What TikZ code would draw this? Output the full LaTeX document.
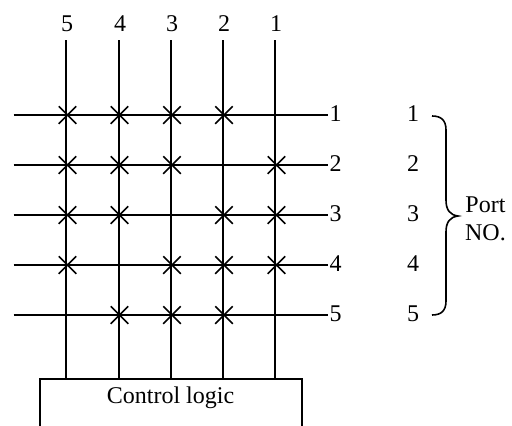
\documentclass[tikz,border=0pt]{standalone}
\usepackage{fontspec}
\setmainfont{Liberation Serif}
\usetikzlibrary{shapes.misc}
\tikzset{
  wire/.style={draw=black,line width=1.6pt},
  lbl/.style={inner sep=0pt,font=\fontsize{24}{26}\selectfont},
  xmark/.style={cross out,draw=black,line width=1.6pt,inner sep=0pt,minimum size=17.5pt,outer sep=0pt}
}
\begin{document}
\begin{tikzpicture}[x=1pt,y=-1pt]
\useasboundingbox (0,0) rectangle (512,426);
% column ends
\foreach \n/\x in {5/66,4/119,3/171,2/223,1/275}{
  \coordinate (ct\n) at (\x,40);
  \coordinate (cb\n) at (\x,379);
  \node[lbl] (cl\n) at (\x+1,24) {\n};
  \draw[wire] (ct\n) -- (cb\n);
}
% row ends
\foreach \n/\y in {1/115,2/165,3/215,4/265,5/315}{
  \coordinate (rl\n) at (13.5,\y);
  \coordinate (rr\n) at (328,\y);
  \node[lbl,anchor=west] (rn\n) at (329.5,\y-1.5) {\n};
  \node[lbl] (pn\n) at (413,\y-1.5) {\n};
  \draw[wire] (rl\n) -- (rr\n);
}
% crosspoints
\foreach \r/\y/\cols in {
  1/115/{67.5,119.5,172,224},
  2/165/{67.5,119.5,172,276.5},
  3/215/{67.5,119.5,224,276.5},
  4/265/{67.5,172,224,276.5},
  5/315/{119.5,172,224}}{
  \foreach \x in \cols { \node[xmark] (x\r-\x) at (\x,\y) {}; }
}
% control logic box, open at the bottom
\coordinate (boxbl) at (40,426);
\coordinate (boxtl) at (40,379);
\coordinate (boxtr) at (302,379);
\coordinate (boxbr) at (302,426);
\draw[wire] (boxbl) -- (boxtl) -- (boxtr) -- (boxbr);
\node[lbl] (ctrl) at (170.5,398) {Control logic};
% brace
\coordinate (bt) at (432,116);
\coordinate (bb) at (432,315);
\coordinate (btip) at (458,216);
\draw[wire] (bt) .. controls (441,116) and (446,120) .. (446,130)
  -- (446,200) .. controls (446,210) and (450,215) .. (btip)
  .. controls (450,217) and (446,222) .. (446,232)
  -- (446,301) .. controls (446,311) and (441,315) .. (bb);
\node[lbl] (port) at (485.5,205) {Port};
\node[lbl] (no) at (485.5,232.5) {NO.};
\end{tikzpicture}
\end{document}
